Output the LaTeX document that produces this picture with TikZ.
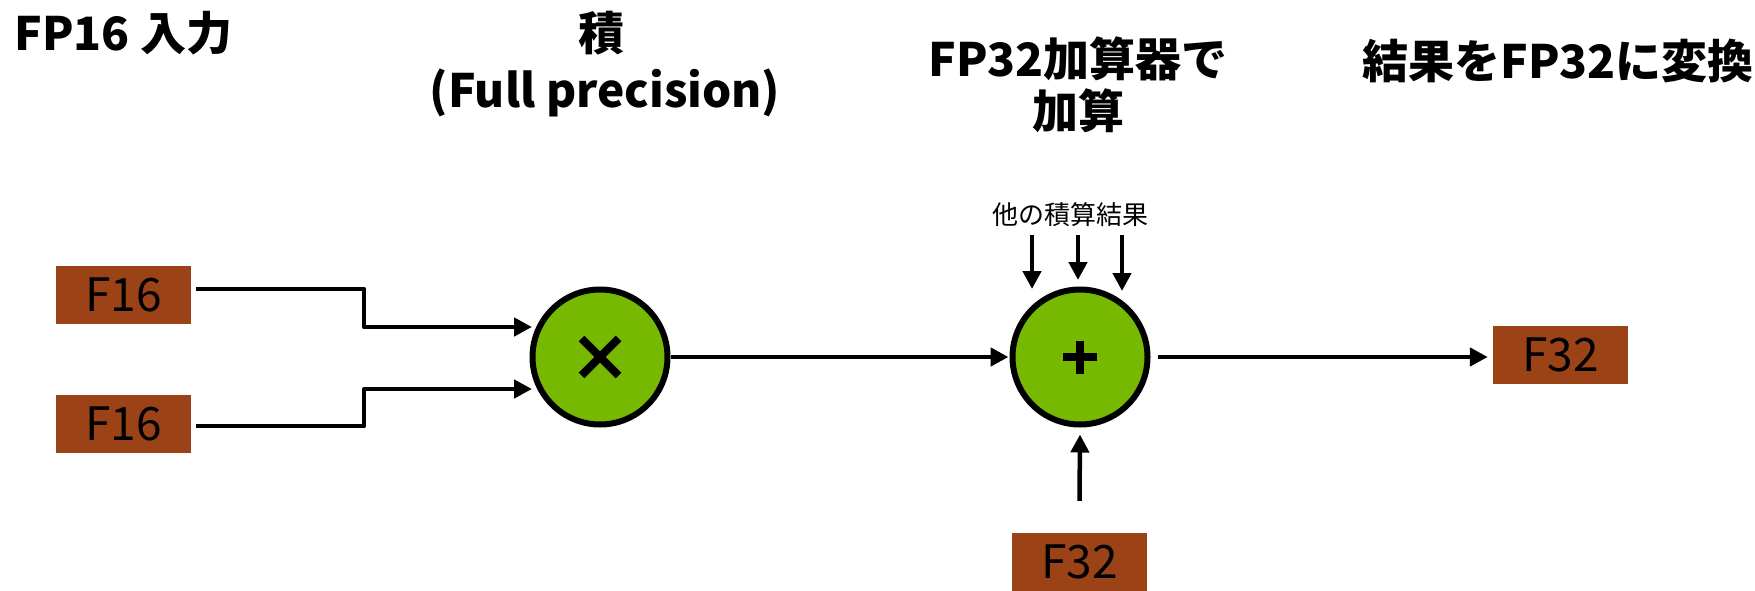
\documentclass[tikz,border=0pt]{standalone}
\usepackage{fontspec}
\setmainfont{Noto Sans CJK JP}
\usetikzlibrary{arrows.meta}
\definecolor{nvgreen}{HTML}{76B900}
\definecolor{boxbrown}{HTML}{9B4216}
\tikzset{
  valbox/.style={fill=boxbrown, minimum width=135pt, minimum height=58pt, inner sep=0pt,
    font=\fontsize{46}{50}\selectfont},
  opcircle/.style={circle, draw=black, line width=6pt, fill=nvgreen, minimum size=135pt, inner sep=0pt},
  title/.style={font=\fontsize{46}{50}\selectfont\bfseries, inner sep=0pt},
  small/.style={font=\fontsize{26}{30}\selectfont, inner sep=0pt},
  conn/.style={line width=4.5pt, line join=round, -{Triangle[length=18pt,width=18pt]}},
  opmark/.style={line width=8pt},
}
\begin{document}
\begin{tikzpicture}[x=1pt,y=-1pt]
\useasboundingbox (0,0) rectangle (1755,591);
% titles
\node[title] (t1) at (123.5,33) {FP16 入力};
\node[title] (t2) at (601,33) {積};
\node[title] (t3) at (605,93) {(Full precision)};
\node[title] (t4) at (1078,59) {FP32加算器で};
\node[title] (t5) at (1078,111) {加算};
\node[title] (t6) at (1558,61) {結果をFP32に変換};
% boxes
\node[valbox] (b1) at (123.5,295) {F16};
\node[valbox] (b2) at (123.5,423.5) {F16};
\node[valbox] (out) at (1560.5,355) {F32};
\node[valbox] (acc) at (1079.5,562) {F32};
% operators
\node[opcircle] (mul) at (600,357) {};
\node[opcircle] (add) at (1080,357) {};
\draw[opmark] ([shift={(-18.5,-18.5)}]mul.center) -- ([shift={(18.5,18.5)}]mul.center);
\draw[opmark] ([shift={(-18.5,18.5)}]mul.center) -- ([shift={(18.5,-18.5)}]mul.center);
\draw[opmark] ([shift={(-17,0)}]add.center) -- ([shift={(17,0)}]add.center);
\draw[opmark] ([shift={(0,-16.5)}]add.center) -- ([shift={(0,16.5)}]add.center);
% label
\node[small] (oth) at (1070,215) {他の積算結果};
\coordinate (s1) at (1032,235);
\coordinate (s2) at (1078,235);
\coordinate (s3) at (1122,235);
\coordinate (e1) at (1032,289);
\coordinate (e2) at (1078,280);
\coordinate (e3) at (1122,291);
% connectors
\draw[conn] ([xshift=5pt,yshift=6pt]b1.east) -- ++(168,0) |- ([xshift=2.5pt,yshift=30pt]mul.west);
\draw[conn] ([xshift=5pt,yshift=-2.5pt]b2.east) -- ++(168,0) |- ([xshift=2.5pt,yshift=-32pt]mul.west);
\draw[conn] (mul.east) -- ([xshift=-1pt]add.west);
\draw[conn] ([xshift=7pt]add.east) -- ([xshift=-5pt]add.east -| out.west);
\draw[conn] ([yshift=32pt]acc.north) -- ([yshift=-7pt]add.south);
\draw[conn] (s1) -- (e1);
\draw[conn] (s2) -- (e2);
\draw[conn] (s3) -- (e3);
\end{tikzpicture}
\end{document}
